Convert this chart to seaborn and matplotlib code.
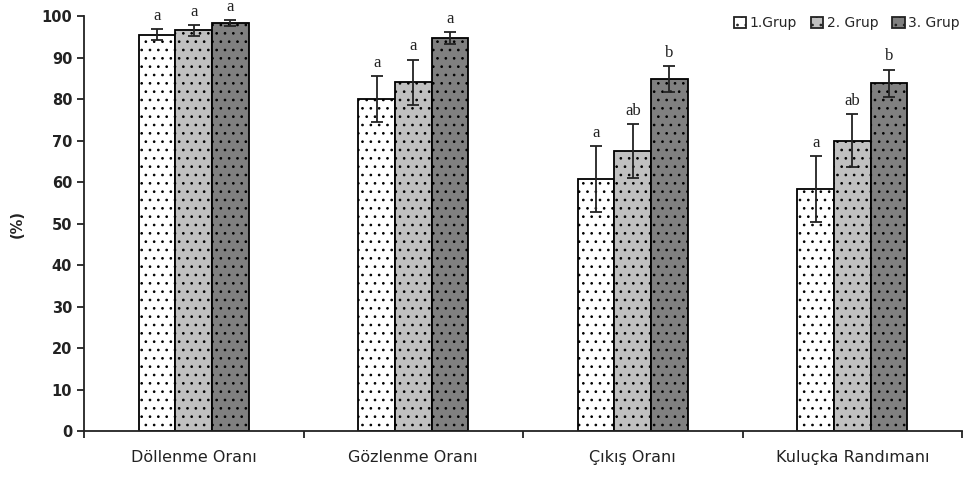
import numpy as np
import pandas as pd
import matplotlib
matplotlib.use("Agg")
import matplotlib.pyplot as plt
import seaborn as sns

categories = ["Döllenme Oranı", "Gözlenme Oranı", "Çıkış Oranı", "Kuluçka Randımanı"]
groups = ["1.Grup", "2. Grup", "3. Grup"]
grup1 = [95.5, 80.0, 60.7, 58.3]
grup2 = [96.6, 84.0, 67.5, 70.0]
grup3 = [98.3, 94.7, 84.8, 83.8]
err1 = [1.4, 5.5, 8.0, 8.0]
err2 = [1.3, 5.5, 6.5, 6.3]
err3 = [0.8, 1.5, 3.2, 3.3]
letters1 = ["a", "a", "a", "a"]
letters2 = ["a", "a", "ab", "ab"]
letters3 = ["a", "a", "b", "b"]

colors = ["#ffffff", "#c0c0c0", "#808080"]

rows = []
for g, vals in zip(groups, [grup1, grup2, grup3]):
    for c, v in zip(categories, vals):
        rows.append({"cat": c, "grup": g, "val": v})
df = pd.DataFrame(rows)

sns.set_style("white")
plt.rcParams["hatch.linewidth"] = 0.7
plt.rcParams["hatch.color"] = "#333333"

fig = plt.figure(figsize=(9.68, 4.78), dpi=100)
ax = fig.add_axes([0.0868, 0.0983, 0.9070, 0.8682])

sns.barplot(data=df, x="cat", y="val", hue="grup", palette=colors,
            width=0.5, gap=0, edgecolor="black", linewidth=1.3,
            errorbar=None, ax=ax, legend=True)

errs = [err1, err2, err3]
lets = [letters1, letters2, letters3]
bar_conts = list(ax.containers)
for i, cont in enumerate(bar_conts):
    for j, bar in enumerate(cont.patches):
        bar.set_hatch("..")
        x = bar.get_x() + bar.get_width() / 2
        h = bar.get_height()
        ax.errorbar(x, h, yerr=errs[i][j], color="#222222", capsize=4.5,
                    elinewidth=1.3, capthick=1.3, fmt="none")
        ax.text(x, h + errs[i][j] + 2.2, lets[i][j], ha="center", va="baseline",
                fontsize=12, family="Liberation Serif", color="#222222",
                clip_on=False)

ax.set_xlim(-0.5, 3.5)
ax.set_ylim(0, 100)
ax.set_yticks(range(0, 101, 10))
ax.set_xticks(np.arange(-0.5, 4, 1), minor=True)
ax.tick_params(axis="x", which="major", length=0, pad=14, labelsize=11.5,
               labelcolor="#222222")
ax.tick_params(axis="x", which="minor", length=5, width=1.3, direction="out",
               color="#222222", bottom=True)
ax.tick_params(axis="y", length=5, width=1.3, direction="out", labelsize=10.5,
               color="#222222", left=True)
for lab in ax.get_yticklabels():
    lab.set_fontweight("bold")
    lab.set_color("#222222")
ax.set_xlabel("")
ax.set_ylabel("(%)", fontsize=10.5, fontweight="bold", color="#222222", labelpad=12)
for s in ["top", "right"]:
    ax.spines[s].set_visible(False)
for s in ["left", "bottom"]:
    ax.spines[s].set_color("#222222")
    ax.spines[s].set_linewidth(1.3)

handles, labels = ax.get_legend_handles_labels()
for hnd in handles:
    hnd.set_hatch("..")
    hnd.set_edgecolor("#222222")
ax.legend(handles, labels, ncol=3, loc="upper right", bbox_to_anchor=(1.012, 1.03),
          frameon=False, fontsize=10, handlelength=0.9, handleheight=0.9,
          handletextpad=0.25, columnspacing=1.0)

fig.savefig("out.png", dpi=100)
